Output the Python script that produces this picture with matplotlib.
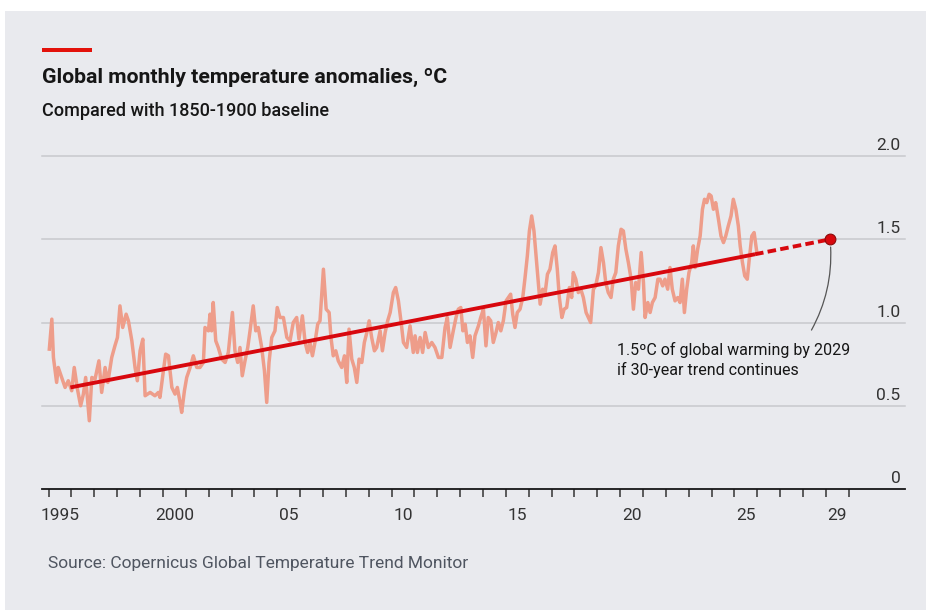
import matplotlib
matplotlib.use("Agg")
import matplotlib.pyplot as plt
from matplotlib import font_manager
from matplotlib.patches import Rectangle
import matplotlib.transforms as mtransforms

# monthly anomalies (decimal year, deg C)
years = [
    1995.03, 1995.14, 1995.21, 1995.35, 1995.42, 1995.57, 1995.72, 1995.86,
    1996.01, 1996.12, 1996.26, 1996.40, 1996.52, 1996.62, 1996.78, 1996.89,
    1997.03, 1997.20, 1997.32, 1997.47, 1997.59, 1997.76, 1997.90,
    1998.01, 1998.12, 1998.24, 1998.39, 1998.49, 1998.64, 1998.78, 1998.88,
    1999.00, 1999.12, 1999.22, 1999.44, 1999.65, 1999.80, 1999.87,
    2000.02, 2000.12, 2000.24, 2000.39, 2000.53, 2000.63, 2000.75, 2000.82, 2000.94,
    2001.04, 2001.19, 2001.33, 2001.48, 2001.62, 2001.77, 2001.84, 2001.99,
    2002.06, 2002.13, 2002.20, 2002.31, 2002.42, 2002.57, 2002.72, 2002.86,
    2003.04, 2003.15, 2003.27, 2003.37, 2003.47, 2003.59, 2003.71, 2003.81, 2003.95,
    2004.06, 2004.17, 2004.32, 2004.44, 2004.54, 2004.64, 2004.76, 2004.90,
    2005.00, 2005.12, 2005.27, 2005.42, 2005.56, 2005.70, 2005.85, 2005.95,
    2006.10, 2006.22, 2006.33, 2006.43, 2006.54, 2006.65, 2006.77, 2006.87,
    2007.02, 2007.14, 2007.27, 2007.35, 2007.45, 2007.56, 2007.67, 2007.82, 2007.94,
    2008.04, 2008.14, 2008.26, 2008.37, 2008.48, 2008.58, 2008.70, 2008.81, 2008.92,
    2009.02, 2009.13, 2009.25, 2009.35, 2009.50, 2009.60, 2009.72, 2009.83, 2009.94,
    2010.08, 2010.18, 2010.30, 2010.42, 2010.52, 2010.66, 2010.81, 2010.95,
    2011.03, 2011.13, 2011.25, 2011.36, 2011.47, 2011.61, 2011.76, 2011.90,
    2012.05, 2012.20, 2012.34, 2012.44, 2012.56, 2012.70, 2012.82, 2012.92,
    2013.03, 2013.12, 2013.22, 2013.32, 2013.43, 2013.55, 2013.65, 2013.80, 2013.90,
    2014.02, 2014.13, 2014.23, 2014.34, 2014.45, 2014.57, 2014.67, 2014.78, 2014.89,
    2015.01, 2015.11, 2015.21, 2015.30, 2015.40, 2015.50, 2015.62, 2015.74, 2015.84, 2015.94,
    2016.03, 2016.13, 2016.23, 2016.32, 2016.42, 2016.50, 2016.61, 2016.72, 2016.82, 2016.93,
    2017.05, 2017.15, 2017.25, 2017.34, 2017.45, 2017.55, 2017.66, 2017.78, 2017.88, 2017.95,
    2018.06, 2018.17, 2018.28, 2018.39, 2018.51, 2018.61, 2018.71, 2018.83, 2018.93,
    2019.05, 2019.16, 2019.27, 2019.37, 2019.48, 2019.60, 2019.70, 2019.81, 2019.92,
    2020.04, 2020.14, 2020.25, 2020.36, 2020.48, 2020.58, 2020.68, 2020.80, 2020.92,
    2021.02, 2021.09, 2021.21, 2021.31, 2021.41, 2021.53, 2021.65, 2021.75, 2021.86, 2021.96,
    2022.08, 2022.18, 2022.28, 2022.40, 2022.52, 2022.62, 2022.72, 2022.81, 2022.91,
    2023.01, 2023.13, 2023.20, 2023.28, 2023.39, 2023.50, 2023.60, 2023.69, 2023.79, 2023.89, 2023.98,
    2024.08, 2024.18, 2024.30, 2024.41, 2024.52, 2024.62, 2024.73, 2024.85, 2024.95,
    2025.06, 2025.17, 2025.25, 2025.35, 2025.45, 2025.56, 2025.64, 2025.76, 2025.86, 2025.98,
]
anomaly = [
    0.84, 1.02, 0.79, 0.64, 0.73, 0.67, 0.61, 0.65,
    0.59, 0.73, 0.60, 0.50, 0.57, 0.67, 0.41, 0.67,
    0.66, 0.77, 0.58, 0.73, 0.64, 0.79, 0.86,
    0.91, 1.10, 0.97, 1.05, 1.01, 0.89, 0.73, 0.65,
    0.83, 0.90, 0.56, 0.58, 0.56, 0.58, 0.55,
    0.71, 0.81, 0.80, 0.61, 0.57, 0.61, 0.52, 0.46, 0.59,
    0.67, 0.73, 0.80, 0.73, 0.73, 0.76, 0.97, 0.95,
    1.05, 0.95, 1.12, 0.89, 0.85, 0.78, 0.76, 0.82,
    1.06, 0.83, 0.76, 0.85, 0.68, 0.77, 0.85, 0.95, 1.10,
    0.95, 0.97, 0.85, 0.71, 0.52, 0.76, 0.91, 0.95,
    1.09, 1.03, 1.03, 0.91, 0.89, 1.00, 1.03, 0.90,
    1.04, 0.88, 0.82, 0.88, 0.80, 0.88, 0.99, 1.01,
    1.32, 1.08, 1.06, 0.91, 0.80, 0.83, 0.77, 0.73, 0.80,
    0.64, 0.96, 0.78, 0.73, 0.64, 0.78, 0.76, 0.88, 0.94,
    1.01, 0.91, 0.83, 0.85, 0.95, 0.83, 0.94, 1.01, 1.06,
    1.18, 1.21, 1.13, 1.00, 0.88, 0.85, 0.98, 0.82,
    0.92, 0.82, 0.91, 0.82, 0.94, 0.85, 0.88, 0.85,
    0.79, 0.79, 0.97, 1.03, 0.85, 0.95, 1.03, 1.08,
    1.09, 0.95, 0.99, 0.88, 0.92, 0.79, 0.92, 0.98, 1.03,
    1.08, 0.86, 1.03, 1.01, 0.88, 0.94, 1.00, 0.95, 1.01,
    1.13, 1.15, 1.17, 1.05, 0.97, 1.06, 1.08, 1.15, 1.27, 1.40,
    1.55, 1.64, 1.55, 1.40, 1.24, 1.11, 1.20, 1.18, 1.29, 1.32,
    1.42, 1.46, 1.32, 1.15, 1.03, 1.08, 1.09, 1.21, 1.15, 1.30,
    1.26, 1.18, 1.20, 1.15, 1.06, 1.03, 1.00, 1.20, 1.22,
    1.30, 1.45, 1.36, 1.24, 1.18, 1.15, 1.26, 1.30, 1.46,
    1.56, 1.55, 1.44, 1.36, 1.26, 1.08, 1.24, 1.20, 1.42,
    1.24, 1.03, 1.12, 1.06, 1.12, 1.15, 1.26, 1.26, 1.22, 1.26,
    1.20, 1.33, 1.20, 1.13, 1.15, 1.12, 1.26, 1.06, 1.20,
    1.30, 1.36, 1.46, 1.33, 1.44, 1.52, 1.68, 1.74, 1.72, 1.77, 1.76,
    1.68, 1.72, 1.62, 1.52, 1.48, 1.52, 1.58, 1.64, 1.74,
    1.68, 1.58, 1.46, 1.36, 1.28, 1.26, 1.37, 1.52, 1.54, 1.42,
]

# 30-year linear trend and its projection
trend_years = [1995.95, 2025.9]
trend_vals = [0.61, 1.41]
target_year = 2029.2
target_val = 1.5

tick_years = list(range(1995, 2031))
label_years = [1995, 2000, 2005, 2010, 2015, 2020, 2025, 2029]
label_text = ["1995", "2000", "05", "10", "15", "20", "25", "29"]
y_ticks = [0, 0.5, 1.0, 1.5, 2.0]
y_text = ["0", "0.5", "1.0", "1.5", "2.0"]

BG = "#e9eaee"
RED = "#d8080e"
SALMON = "#ee9d8a"
GRID = "#c8c9cd"
DARK = "#161616"

names = {f.name for f in font_manager.fontManager.ttflist}
COND = "Liberation Sans Narrow" if "Liberation Sans Narrow" in names else "Roboto"
plt.rcParams["font.family"] = [COND, "DejaVu Sans"]

W, H = 934, 610
fig = plt.figure(figsize=(W / 100, H / 100), dpi=100)
fig.patch.set_facecolor("white")
fig.add_artist(Rectangle((5 / W, 0), 921 / W, 599 / H, transform=fig.transFigure,
                         facecolor=BG, edgecolor="none", zorder=-10))

# red flag + headings
fig.add_artist(Rectangle((42 / W, 1 - 52 / H), 50 / W, 4 / H, transform=fig.transFigure,
                         facecolor="#e3120b", edgecolor="none"))
fig.text(42 / W, 1 - 83 / H, "Global monthly temperature anomalies, ºC",
         fontsize=15.3, fontweight="bold", color=DARK, va="baseline")
fig.text(42 / W, 1 - 116 / H, "Compared with 1850-1900 baseline",
         fontsize=13, fontweight="medium", color=DARK, va="baseline")
fig.text(48 / W, 1 - 568 / H, "Source: Copernicus Global Temperature Trend Monitor",
         fontsize=12.5, color="#4f5560", va="baseline", family=["Roboto", "DejaVu Sans"])

ax = fig.add_axes([42 / W, 121 / H, 863 / W, 333 / H])
ax.patch.set_visible(False)
ax.set_xlim(1994.71, 2032.46)
ax.set_ylim(0, 2.0)

for s in ["top", "left", "right"]:
    ax.spines[s].set_visible(False)
ax.spines["bottom"].set_color(DARK)
ax.spines["bottom"].set_linewidth(1.3)
ax.spines["bottom"].set_zorder(5)

ax.set_yticks(y_ticks)
ax.tick_params(axis="y", length=0, labelleft=False)
lab_tr = mtransforms.blended_transform_factory(ax.transAxes, ax.transData)
for v, t in zip(y_ticks, y_text):
    if v > 0:
        ax.axhline(v, color=GRID, lw=1.1, zorder=1, clip_on=False)
    ax.text(0.9945, v + 0.018, t, transform=lab_tr, ha="right", va="bottom",
            fontsize=12.5, color="#333333")

ax.set_xticks(tick_years)
ax.set_xticklabels([])
ax.tick_params(axis="x", which="major", length=6, width=1.1, color="#333333")
ax.set_xticks([y + 0.5 for y in label_years], minor=True)
ax.set_xticklabels(label_text, minor=True)
ax.tick_params(axis="x", which="minor", length=0, pad=14, labelsize=12.5, labelcolor="#333333")

ax.plot(years, anomaly, color=SALMON, lw=2.5, zorder=2, solid_joinstyle="round")
ax.plot(trend_years, trend_vals, color=RED, lw=2.8, zorder=3, solid_capstyle="butt")
ax.plot([trend_years[-1], target_year], [trend_vals[-1], target_val], color=RED, lw=2.8,
        ls=(0, (2.2, 1.1)), zorder=3)
ax.scatter([target_year], [target_val], s=60, color=RED, edgecolor="#8a0a0a",
           linewidth=0.8, zorder=4, clip_on=False)

ax.annotate("", xy=(target_year, target_val - 0.03), xytext=(2028.31, 0.94),
            arrowprops=dict(arrowstyle="-", color="#555555", lw=0.9,
                            connectionstyle="arc3,rad=0.15"))
ax.text(2019.86, 0.885, "1.5ºC of global warming by 2029\nif 30-year trend continues",
        ha="left", va="top", fontsize=11.5, color=DARK, linespacing=1.35)

fig.savefig("out.png", dpi=100, facecolor=fig.get_facecolor())
